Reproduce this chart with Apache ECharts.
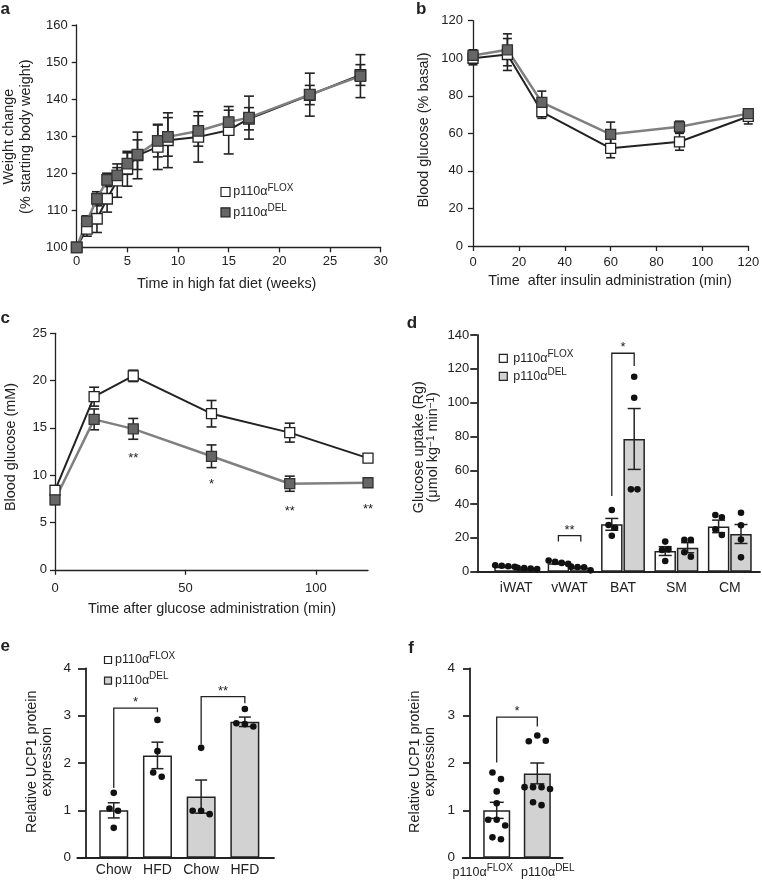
<!DOCTYPE html>
<html><head><meta charset="utf-8">
<script src="https://cdn.jsdelivr.net/npm/echarts@6/dist/echarts.min.js"></script>
<style>html,body{margin:0;padding:0;background:#fff}#c{width:762px;height:880px}</style>
</head><body><div id="c"></div>
<script>
// ---------- data ----------
// Panel a: weight change
const aWeeks = [0,1,2,3,4,5,6,8,9,12,15,17,23,28];
const aFlox = [100,105.0,107.7,113.1,118.0,121.2,124.8,127.1,128.9,129.8,131.6,134.7,141.1,146.5];
const aFloxSem = [0,2.0,3.7,3.6,4.5,4.7,6.3,6.1,7.4,6.8,6.4,3.0,2.6,2.8];
const aDel = [100,107.0,113.1,118.2,119.4,122.6,125.0,128.7,129.8,131.4,133.8,135.0,141.2,146.2];
const aDelSem = [0,1.5,1.9,1.8,2.1,2.9,4.0,4.3,5.2,4.1,3.2,5.8,5.8,5.8];
// Panel b: ITT
const bTime = [0,15,30,60,90,120];
const bFlox = [100,102,71.5,52,55.5,69];
const bFloxSem = [3.5,8.5,3.5,5,4.5,4];
const bDel = [101.5,104.5,76.5,59.5,63.5,70.5];
const bDelSem = [3,8.5,6,6.5,3,2];
// Panel c: GTT
const cTime = [0,15,30,60,90,120];
const cFlox = [8.4,18.3,20.5,16.5,14.5,11.8];
const cFloxSem = [0.5,1.0,0.6,1.4,1.0,0.4];
const cDel = [7.4,15.9,14.9,12.0,9.1,9.2];
const cDelSem = [0.5,1.1,1.1,1.2,0.8,0.3];
const cStarTime = [30,60,90,120];
const cStarText = ['**','*','**','**'];
const cStarLevel = [12.1,9.3,6.5,6.7];
// Panel d: glucose uptake
const dCats = ['iWAT','vWAT','BAT','SM','CM'];
const dFlox = [3.0,5.0,28.0,12.2,26.8];
const dFloxSem = [0.3,0.5,3.5,2.6,3.7];
const dDel = [1.8,2.4,78.5,14.2,22.3];
const dDelSem = [0.2,0.4,18.0,3.0,5.6];
const dFloxDots = [[3.8,3.5,3.2,2.9],[6.6,5.8,5.2,4.6],[36.5,27.6,26.0,21.3],[17.8,12.8,13.2,6.3],[33.5,32.2,25.1,21.7]];
const dDelDots = [[2.3,2.1,1.9,1.6],[3.0,2.8,2.6,0.8],[115.3,102.9,48.7,48.7],[18.8,18.8,11.5,8.9],[34.9,27.5,19.0,8.5]];
const dBrackets = [[1,-1,17.8,1,1,17.8,21.3],[2,-1,44.8,2,1,121.7,129.2]]; // [cat1,side1,foot1,cat2,side2,foot2,top]
const dBracketText = ['**','*'];
// Panel e: UCP1 chow / HFD
const eCats = ['Chow','HFD','Chow','HFD'];
const eGenotype = ['FLOX','FLOX','DEL','DEL'];
const eMean = [1.0,2.16,1.29,2.87];
const eSem = [0.16,0.28,0.35,0.10];
const eDots = [[1.37,1.04,0.99,0.63],[2.91,2.25,1.80,1.71],[2.32,0.99,0.99,0.92],[3.14,2.84,2.82,2.77]];
const eBrackets = [[0,0,1.47,1,0,3.07,3.16],[2,0,2.39,3,0,3.26,3.40]];
const eBracketText = ['*','**'];
// Panel f: UCP1
const fCats = ['FLOX','DEL'];
const fMean = [1.0,1.78];
const fSem = [0.17,0.22];
const fDots = [[1.80,1.66,1.40,1.15,0.80,0.80,0.68,0.43,0.39],[2.46,2.58,2.47,1.49,1.49,1.49,1.45,1.17,1.11]];
const fBrackets = [[0,0,2.01,1,0,2.77,2.97]];
const fBracketText = ['*'];

// ---------- style ----------
const FONT = '"Liberation Sans", Arial, Helvetica, sans-serif';
const INK = '#222';
const GRAY_LINE = '#808080';
const GRAY_MARK = '#666';
const BAR_GRAY = '#d2d2d2';
const TITLE = 14.4;

const chart = echarts.init(document.getElementById('c'), null, {renderer:'canvas'});

const lineAxis = w => ({show:true, lineStyle:{color:INK, width:w}});
const ticks = (len, w) => ({show:true, length:len, inside:false, lineStyle:{color:INK, width:w}});
const labels = (margin, size) => ({show:true, margin, fontSize:size||13, color:INK, fontFamily:FONT});
const noSplit = {show:false};
const supRich = (m, s, lh) => ({
  m:{fontSize:m, fontFamily:FONT, color:INK, lineHeight:lh},
  s:{fontSize:s, fontFamily:FONT, color:INK, lineHeight:s, verticalAlign:'top'},
  padR:{width:28, fontSize:m, lineHeight:lh},
  padL:{width:21, fontSize:m, lineHeight:lh}
});

const grids = [
  {left:76.7, top:25, width:304, height:222.3},
  {left:473, top:20.7, width:275.3, height:225.3},
  {left:55, top:333.3, width:313, height:236.5},
  {left:477.3, top:335, width:282.7, height:236.7},
  {left:489.5, top:335, width:267, height:236.7},
  {left:77.3, top:668.3, width:196.7, height:189.4},
  {left:91.9, top:668.3, width:174.8, height:189.4},
  {left:462.7, top:668.3, width:100, height:189.4},
  {left:476.4, top:668.3, width:81.2, height:189.4}
].map(g => Object.assign({containLabel:false, outerBoundsMode:'none', show:false}, g));

const lineOnlyX = (gi, w) => ({gridIndex:gi, type:'value', min:0, max:1, axisLine:lineAxis(w), axisTick:{show:false}, axisLabel:{show:false}, splitLine:noSplit});
const catX = (gi, data, margin, extra) => Object.assign({gridIndex:gi, type:'category', data, axisLine:{show:false}, axisTick:{show:false},
  axisLabel:Object.assign(labels(margin,14), {interval:0}), splitLine:noSplit}, extra||{});

const xAxes = [
  {gridIndex:0, type:'value', min:0, max:30, interval:5, axisLine:lineAxis(1.3), axisTick:ticks(5,1.3), axisLabel:labels(8), splitLine:noSplit},
  {gridIndex:1, type:'value', min:0, max:120, interval:20, axisLine:lineAxis(1.3), axisTick:ticks(5,1.3), axisLabel:labels(10), splitLine:noSplit},
  {gridIndex:2, type:'value', min:0, max:120, interval:50, axisLine:lineAxis(1.3), axisTick:ticks(5,1.3), axisLabel:Object.assign(labels(12),{showMaxLabel:false}), splitLine:noSplit},
  lineOnlyX(3, 1.8),
  catX(4, dCats, 9),
  lineOnlyX(5, 1.8),
  catX(6, eCats, 5.6),
  lineOnlyX(7, 1.8),
  catX(8, fCats, 6, {axisLabel:{margin:6, interval:0,
    formatter: (v, i) => i === 0 ? '{m|p110α}{s|' + v + '}{padR| }' : '{padL| }{m|p110α}{s|' + v + '}',
    rich: supRich(12.5, 10, 18)}})
];

const valY = (gi, min, max, interval, margin, tickLen, w, size, offset) => ({gridIndex:gi, type:'value', min, max, interval, offset:offset||0,
  axisLine:lineAxis(w), axisTick:ticks(tickLen, w), axisLabel:labels(margin, size), splitLine:noSplit});
const hiddenY = (gi, min, max) => ({gridIndex:gi, type:'value', min, max, show:false, splitLine:noSplit});

const yAxes = [
  valY(0, 100, 160, 10, 9, 5, 1.3, 13),
  valY(1, 0, 120, 20, 10, 5, 1.3, 13),
  valY(2, 0, 25, 5, 8, 5, 1.3, 13),
  hiddenY(3, 0, 140),
  valY(4, 0, 140, 20, 8, 7, 1.8, 13, 12.2),
  hiddenY(5, 0, 4),
  valY(6, 0, 4, 1, 15, 8, 1.8, 13.5, 5.9),
  hiddenY(7, 0, 4),
  valY(8, 0, 4, 1, 15, 7, 1.8, 13.5, 6.4)
];

// ---------- series helpers ----------
function errSeries(gi, xs, ys, sems, capHalf, lw, side, sideOff) {
  const data = [];
  xs.forEach((x, i) => { if (sems[i] > 0) data.push([x, ys[i]-sems[i], ys[i]+sems[i]]); });
  return {type:'custom', xAxisIndex:gi, yAxisIndex:gi, z:4, silent:true, data,
    encode:{x:0, y:[1,2]},
    renderItem: (params, api) => {
      const p1 = api.coord([api.value(0), api.value(1)]);
      const p2 = api.coord([api.value(0), api.value(2)]);
      const cx = p1[0] + (side||0)*(sideOff||0);
      const st = {stroke:INK, lineWidth:lw, fill:null};
      return {type:'group', children:[
        {type:'line', shape:{x1:cx, y1:p1[1], x2:cx, y2:p2[1]}, style:st},
        {type:'line', shape:{x1:cx-capHalf, y1:p1[1], x2:cx+capHalf, y2:p1[1]}, style:st},
        {type:'line', shape:{x1:cx-capHalf, y1:p2[1], x2:cx+capHalf, y2:p2[1]}, style:st}
      ]};
    }};
}
function lineSeries(gi, name, xs, ys, fill, border, lineColor, lineW, size) {
  return {type:'line', name, xAxisIndex:gi, yAxisIndex:gi, z:5, data: xs.map((x,i)=>[x, ys[i]]),
    symbol:'rect', symbolSize:size, showAllSymbol:true,
    itemStyle:{color:fill, borderColor:border, borderWidth:1.3},
    lineStyle:{color:lineColor, width:lineW}, emphasis:{disabled:true}};
}
function dotSeries(gi, groups, cats, sides, sideOff, spacing, r, thresh) {
  const data = [];
  groups.forEach((vals, g) => vals.forEach((v, k) => data.push([cats[g], v, sides[g], g, k])));
  return {type:'custom', xAxisIndex:gi, yAxisIndex:gi, z:6, silent:true, data, encode:{x:0, y:1},
    renderItem: (params, api) => {
      const cat = api.value(0), v = api.value(1), side = api.value(2), g = api.value(3), k = api.value(4);
      const vals = groups[g];
      const ys = vals.map(val => api.coord([cat, val])[1]);
      const order = vals.map((_, i) => i).sort((a, b) => ys[a] - ys[b]);
      const clusters = []; let cur = [order[0]];
      for (let j = 1; j < order.length; j++) {
        if (ys[order[j]] - ys[order[j-1]] < thresh) cur.push(order[j]); else { clusters.push(cur); cur = [order[j]]; }
      }
      clusters.push(cur);
      const cl = clusters.find(c => c.indexOf(k) >= 0).slice().sort((a, b) => a - b);
      const pos = cl.indexOf(k), n = cl.length;
      const p = api.coord([cat, v]);
      return {type:'circle', shape:{cx: p[0] + side*sideOff + (pos - (n-1)/2)*spacing, cy:p[1], r}, style:{fill:'#111'}};
    }};
}
function bracketSeries(gi, brackets, texts, sideOff) {
  return {type:'custom', xAxisIndex:gi, yAxisIndex:gi, z:7, silent:true, data:brackets,
    renderItem: (params, api) => {
      const b = brackets[params.dataIndex];
      const pA = api.coord([b[0], b[2]]), pAt = api.coord([b[0], b[6]]);
      const pB = api.coord([b[3], b[5]]);
      const xA = pA[0] + b[1]*sideOff, xB = pB[0] + b[4]*sideOff;
      return {type:'group', children:[
        {type:'polyline', shape:{points:[[xA,pA[1]],[xA,pAt[1]],[xB,pAt[1]],[xB,pB[1]]]}, style:{stroke:INK, lineWidth:1.3, fill:null}},
        {type:'text', x:(xA+xB)/2, y:pAt[1]+1, style:{text:texts[params.dataIndex], fill:INK, fontSize:13, fontFamily:FONT,
          align:'center', verticalAlign:'bottom', textAlign:'center', textVerticalAlign:'bottom'}}
      ]};
    }};
}
function barSeries(gi, name, values, colors, width, gap) {
  return {type:'bar', name, xAxisIndex:gi, yAxisIndex:gi, z:2, barWidth:width, barGap:gap||'0%',
    data: values.map((v, i) => ({value:v, itemStyle:{color:colors[i], borderColor:INK, borderWidth:1.5}})),
    emphasis:{disabled:true}};
}

const series = [];
// a
series.push(errSeries(0, aWeeks, aFlox, aFloxSem, 5, 1.6));
series.push(errSeries(0, aWeeks, aDel, aDelSem, 5, 1.6));
series.push(lineSeries(0, 'a FLOX', aWeeks, aFlox, '#fff', INK, INK, 2, 10.5));
series.push(lineSeries(0, 'a DEL', aWeeks, aDel, GRAY_MARK, '#333', GRAY_LINE, 2.5, 10.5));
// b
series.push(errSeries(1, bTime, bFlox, bFloxSem, 4.5, 1.6));
series.push(errSeries(1, bTime, bDel, bDelSem, 4.5, 1.6));
series.push(lineSeries(1, 'b FLOX', bTime, bFlox, '#fff', INK, INK, 2, 10));
series.push(lineSeries(1, 'b DEL', bTime, bDel, GRAY_MARK, '#333', GRAY_LINE, 2.5, 10));
// c
series.push(errSeries(2, cTime, cFlox, cFloxSem, 5, 1.6));
series.push(errSeries(2, cTime, cDel, cDelSem, 5, 1.6));
series.push(lineSeries(2, 'c FLOX', cTime, cFlox, '#fff', INK, INK, 2, 10));
series.push(lineSeries(2, 'c DEL', cTime, cDel, GRAY_MARK, '#333', GRAY_LINE, 2.5, 10));
series.push({type:'custom', xAxisIndex:2, yAxisIndex:2, z:7, silent:true,
  data: cStarTime.map((t, i) => [t, cStarLevel[i]]),
  renderItem: (params, api) => {
    const p = api.coord([api.value(0), api.value(1)]);
    return {type:'text', x:p[0], y:p[1]+3, style:{text:cStarText[params.dataIndex], fill:INK, fontSize:13, fontFamily:FONT,
      align:'center', verticalAlign:'middle', textAlign:'center', textVerticalAlign:'middle'}};
  }});
// d
const dSideOff = 11.2;
series.push(barSeries(4, 'd FLOX', dFlox, dFlox.map(() => '#fff'), 21.5, '4%'));
series.push(barSeries(4, 'd DEL', dDel, dDel.map(() => BAR_GRAY), 21.5, '4%'));
series.push(dotSeries(4, dFloxDots.concat(dDelDots), dCats.map((_, i) => i).concat(dCats.map((_, i) => i)),
  dCats.map(() => -1).concat(dCats.map(() => 1)), dSideOff, 6.5, 3.3, 6));
series.push(errSeries(4, dCats.map((_, i) => i), dFlox, dFloxSem, 6.5, 1.5, -1, dSideOff));
series.push(errSeries(4, dCats.map((_, i) => i), dDel, dDelSem, 6.5, 1.5, 1, dSideOff));
series.push(bracketSeries(4, dBrackets, dBracketText, dSideOff));
// e
series.push(barSeries(6, 'e', eMean, eGenotype.map(g => g === 'FLOX' ? '#fff' : BAR_GRAY), 29));
series.push(dotSeries(6, eDots, eCats.map((_, i) => i), eCats.map(() => 0), 0, 8.5, 3.3, 7));
series.push(errSeries(6, eCats.map((_, i) => i), eMean, eSem, 6, 1.5));
series.push(bracketSeries(6, eBrackets, eBracketText, 0));
// f
series.push(barSeries(8, 'f', fMean, fCats.map(g => g === 'FLOX' ? '#fff' : BAR_GRAY), 27));
series.push(dotSeries(8, fDots, fCats.map((_, i) => i), fCats.map(() => 0), 0, 8.5, 3.3, 7));
series.push(errSeries(8, fCats.map((_, i) => i), fMean, fSem, 7, 1.5));
series.push(bracketSeries(8, fBrackets, fBracketText, 0));

// ---------- text graphics ----------
function txt(text, x, y, o) {
  o = o || {};
  const style = Object.assign({text, fill:INK, fontFamily:FONT, fontSize:TITLE,
    align:'center', verticalAlign:'middle', textAlign:'center', textVerticalAlign:'middle'}, o.style || {});
  return Object.assign({type:'text', x, y, silent:true, style}, o.el || {});
}
const rot = {rotation: Math.PI/2};
const titleRich = lh => ({n:{fontSize:TITLE, fontFamily:FONT, lineHeight:lh}, s:{fontSize:10, fontFamily:FONT, lineHeight:10, verticalAlign:'top'}});
function letter(ch, x, y) { return txt(ch, x, y, {style:{fontWeight:'bold', fontSize:17, align:'left', textAlign:'left'}}); }
function legendRows(x, ys, size, textX, mSize, sSize, delFill) {
  const out = [];
  ys.forEach((y, i) => {
    out.push({type:'rect', silent:true, shape:{x, y:y-size/2, width:size, height:size},
      style:{fill: i === 0 ? '#fff' : delFill, stroke:INK, lineWidth:1.2}});
    out.push(txt('{m|p110α}{s|' + (i === 0 ? 'FLOX' : 'DEL') + '}', textX, y,
      {style:{align:'left', textAlign:'left', rich:{m:{fontSize:mSize, fontFamily:FONT, lineHeight:18}, s:{fontSize:sSize, fontFamily:FONT, lineHeight:sSize, verticalAlign:'top'}}}}));
  });
  return out;
}

const graphics = [
  letter('a', 0.5, 9.5), letter('b', 416, 9.5), letter('c', 0.5, 318), letter('d', 406.7, 323), letter('e', 0.5, 646), letter('f', 408.3, 648),
  // axis titles
  txt('Time in high fat diet (weeks)', 226.7, 284),
  txt('{n|Weight change}\n{n|(% starting body weight)}', 17.3, 136.7, {el:rot, style:{rich:titleRich(16.5)}}),
  txt('Time  after insulin administration (min)', 610, 281),
  txt('Blood glucose (% basal)', 424.3, 130, {el:rot}),
  txt('Time after glucose administration (min)', 212, 609),
  txt('Blood glucose (mM)', 11, 447, {el:rot}),
  txt('{n|Glucose uptake (Rg)}\n{n|(μmol kg}{s|−1}{n| min}{s|−1}{n|)}', 426, 447.3, {el:rot, style:{rich:titleRich(14.5)}}),
  txt('{n|Relative UCP1 protein}\n{n|expression}', 39.5, 761.7, {el:rot, style:{rich:titleRich(14.4)}}),
  txt('{n|Relative UCP1 protein}\n{n|expression}', 422.5, 761.7, {el:rot, style:{rich:titleRich(15)}})
].concat(
  legendRows(221, [192, 212.3], 9, 233.3, 12.5, 10, GRAY_MARK),
  legendRows(499.3, [358.3, 376.3], 8, 513.3, 12.5, 10, BAR_GRAY),
  legendRows(104.5, [660, 680.7], 7, 115, 12.5, 10, BAR_GRAY)
);

chart.setOption({
  animation:false,
  backgroundColor:'#fff',
  textStyle:{fontFamily:FONT, color:INK},
  grid:grids,
  xAxis:xAxes,
  yAxis:yAxes,
  series,
  graphic:{elements:graphics}
});
</script></body></html>
